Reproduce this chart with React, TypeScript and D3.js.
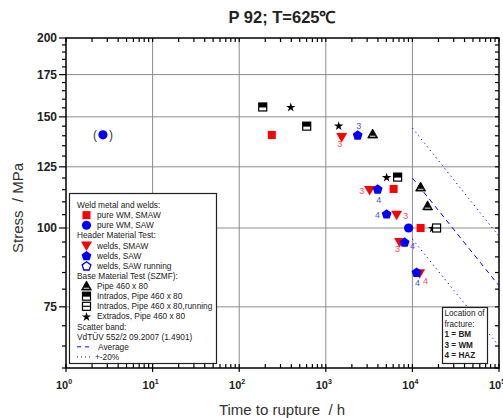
import React, { useEffect, useRef } from 'react';
import * as d3 from 'd3';

// pure weld metal, SMAW (red squares)
const wmSmawTime = [238, 6070, 12440];
const wmSmawStress = [140.4, 115.3, 100];
// pure weld metal, SAW (blue circles), first point given in brackets
const wmSawTime = [2.67, 9040];
const wmSawStress = [140.5, 100];
// header material test, welds SMAW (red down triangles)
const weldSmawTime = [1526, 3208, 6577, 7116, 12110];
const weldSmawStress = [139.4, 114.9, 104.9, 95, 84.8];
const weldSmawLoc = ['3', '3', '3', '3', '4'];
// header material test, welds SAW (blue pentagons)
const weldSawTime = [2333, 3969, 5040, 8128, 11180];
const weldSawStress = [140.4, 115.3, 105.3, 95, 85.1];
const weldSawLoc = ['3', '4', '4', '4', '4'];
// base material test
const pipeTime = [3475, 12440, 14970];
const pipeStress = [140.9, 116.1, 108.4];
const intradosTime = [187, 602, 6750];
const intradosStress = [155.5, 145, 120.4];
const intradosRunTime = [19010];
const intradosRunStress = [100];
const extradosTime = [394, 1409, 5040, 17100];
const extradosStress = [155.5, 145.3, 120.4, 100];
// scatter band VdTÜV 552/2
const bandTime = [10000, 100000];
const averageStress = [120, 81];
const upperStress = [144, 97];
const lowerStress = [96, 65];

const xMajor = [1, 10, 100, 1000, 10000, 100000];
const yMajor = [75, 100, 125, 150, 175, 200];

// label offsets (px) for the location-of-fracture numbers
const smawLocOffset = [[-2, 7], [-8, 1], [9, 1], [-2, 7], [6, 8]];
const sawLocOffset = [[1, -9], [1, 11], [-9, 1], [8, 4], [1, 11]];

const RED = '#ff0000';
const BLUE = '#0000ff';

const App = () => {
  const ref = useRef<SVGSVGElement>(null);

  useEffect(() => {
    const svg = d3.select(ref.current);
    svg.selectAll('*').remove();

    const left = 66;
    const right = 499;
    const top = 38;
    const bottom = 368;
    const font = 'Liberation Sans, Arial, sans-serif';

    const x = d3.scaleLog().domain([1, 100000]).range([left, right]);
    const y = d3.scaleLog().domain([60, 200]).range([bottom, top]);

    svg.append('rect').attr('width', 503).attr('height', 418).attr('fill', 'white');

    svg
      .append('defs')
      .append('clipPath')
      .attr('id', 'plot-clip')
      .append('rect')
      .attr('x', left)
      .attr('y', top)
      .attr('width', right - left)
      .attr('height', bottom - top);

    // grid
    const grid = svg.append('g').attr('stroke', '#8c8c8c').attr('stroke-width', 1);
    xMajor.slice(1, -1).forEach((t) => {
      grid.append('line').attr('x1', x(t)).attr('x2', x(t)).attr('y1', top).attr('y2', bottom);
    });
    yMajor.slice(0, -1).forEach((s) => {
      grid.append('line').attr('x1', left).attr('x2', right).attr('y1', y(s)).attr('y2', y(s));
    });

    // ticks
    const ticks = svg.append('g').attr('stroke', 'black').attr('stroke-width', 1.2);
    x.ticks().forEach((t) => {
      const major = xMajor.includes(t);
      const px = x(t);
      ticks.append('line').attr('x1', px).attr('x2', px)
        .attr('y1', bottom - 4).attr('y2', major ? bottom + 4 : bottom);
      ticks.append('line').attr('x1', px).attr('x2', px)
        .attr('y1', top).attr('y2', top + 4);
    });
    d3.range(60, 201, 5).forEach((s) => {
      const major = yMajor.includes(s);
      const py = y(s);
      ticks.append('line').attr('x1', left - (major ? 7 : 4)).attr('x2', left)
        .attr('y1', py).attr('y2', py);
      ticks.append('line').attr('x1', right - 4).attr('x2', right)
        .attr('y1', py).attr('y2', py);
    });

    // frame
    svg.append('rect')
      .attr('x', left).attr('y', top)
      .attr('width', right - left).attr('height', bottom - top)
      .attr('fill', 'none').attr('stroke', 'black').attr('stroke-width', 1.5);

    // tick labels
    yMajor.forEach((s) => {
      svg.append('text')
        .attr('x', left - 9).attr('y', y(s) + 4)
        .attr('text-anchor', 'end')
        .attr('font-family', font).attr('font-weight', 'bold').attr('font-size', 12)
        .attr('fill', '#222')
        .text(s);
    });
    xMajor.forEach((t) => {
      const tx = svg.append('text')
        .attr('x', x(t) - 2).attr('y', 389)
        .attr('text-anchor', 'middle')
        .attr('font-family', font).attr('font-weight', 'bold').attr('font-size', 11)
        .attr('fill', '#222');
      tx.append('tspan').text('10');
      tx.append('tspan').attr('dy', -5).attr('font-size', 7).text(Math.round(Math.log10(t)));
    });

    // titles
    svg.append('text')
      .attr('x', 282).attr('y', 23)
      .attr('text-anchor', 'middle')
      .attr('font-family', font).attr('font-weight', 'bold').attr('font-size', 16.5)
      .attr('fill', '#222')
      .text('P 92; T=625℃');
    svg.append('text')
      .attr('x', 282).attr('y', 415)
      .attr('text-anchor', 'middle')
      .attr('font-family', font).attr('font-size', 15)
      .attr('fill', '#333')
      .style('white-space', 'pre')
      .text('Time to rupture  / h');
    svg.append('text')
      .attr('transform', 'translate(23,208) rotate(-90)')
      .attr('text-anchor', 'middle')
      .attr('font-family', font).attr('font-size', 15)
      .attr('fill', '#333')
      .style('white-space', 'pre')
      .text('Stress  / MPa');

    // scatter band
    const band = svg.append('g').attr('clip-path', 'url(#plot-clip)').attr('fill', 'none')
      .attr('stroke', BLUE).attr('stroke-width', 1);
    const line = d3.line<number>().x((_, i) => x(bandTime[i])).y((d) => y(d));
    band.append('path').attr('d', line(averageStress)).attr('stroke-dasharray', '5,4');
    band.append('path').attr('d', line(upperStress)).attr('stroke-dasharray', '1.2,3.5');
    band.append('path').attr('d', line(lowerStress)).attr('stroke-dasharray', '1.2,3.5');

    // markers
    const pentagon = (cx: number, cy: number, r: number) =>
      d3.range(5).map((i) => {
        const a = -Math.PI / 2 + (i * 2 * Math.PI) / 5;
        return [cx + r * Math.cos(a), cy + r * Math.sin(a)].join(',');
      }).join(' ');

    const marker = (g: any, kind: string, cx: number, cy: number) => {
      if (kind === 'square') {
        g.append('rect').attr('x', cx - 4).attr('y', cy - 4).attr('width', 8).attr('height', 8).attr('fill', RED);
      } else if (kind === 'circle') {
        g.append('circle').attr('cx', cx).attr('cy', cy).attr('r', 4.6).attr('fill', BLUE);
      } else if (kind === 'tridown') {
        g.append('path').attr('d', `M${cx - 5.5},${cy - 4}L${cx + 5.5},${cy - 4}L${cx},${cy + 5.5}Z`).attr('fill', RED);
      } else if (kind === 'pentagon') {
        g.append('polygon').attr('points', pentagon(cx, cy + 0.5, 5.2)).attr('fill', BLUE);
      } else if (kind === 'pentagonOpen') {
        g.append('polygon').attr('points', pentagon(cx, cy + 0.5, 4.6)).attr('fill', 'white')
          .attr('stroke', BLUE).attr('stroke-width', 1.3);
      } else if (kind === 'triup') {
        g.append('path').attr('d', `M${cx},${cy - 5}L${cx + 5},${cy + 4}L${cx - 5},${cy + 4}Z`)
          .attr('fill', 'black').attr('stroke', 'black').attr('stroke-width', 0.8);
        g.append('line').attr('x1', cx - 2.8).attr('x2', cx + 2.8).attr('y1', cy + 2.3).attr('y2', cy + 2.3)
          .attr('stroke', '#aaa').attr('stroke-width', 1.4);
      } else if (kind === 'halfsq') {
        g.append('rect').attr('x', cx - 4).attr('y', cy - 4).attr('width', 8).attr('height', 8)
          .attr('fill', 'white').attr('stroke', 'black').attr('stroke-width', 1.2);
        g.append('rect').attr('x', cx - 4).attr('y', cy - 4).attr('width', 8).attr('height', 4.5).attr('fill', 'black');
      } else if (kind === 'runsq') {
        g.append('rect').attr('x', cx - 4).attr('y', cy - 4).attr('width', 8).attr('height', 8)
          .attr('fill', 'white').attr('stroke', 'black').attr('stroke-width', 1.2);
        g.append('line').attr('x1', cx - 4).attr('x2', cx + 4).attr('y1', cy).attr('y2', cy)
          .attr('stroke', 'black').attr('stroke-width', 1.2);
      } else if (kind === 'star') {
        g.append('path').attr('d', d3.symbol(d3.symbolStar, 27)())
          .attr('transform', `translate(${cx},${cy + 0.5})`).attr('fill', 'black');
      }
    };

    const pts = svg.append('g');
    const series = (times: number[], stresses: number[], kind: string) => {
      times.forEach((t, i) => marker(pts, kind, x(t), y(stresses[i])));
    };
    series(extradosTime, extradosStress, 'star');
    series(intradosTime, intradosStress, 'halfsq');
    series(intradosRunTime, intradosRunStress, 'runsq');
    series(pipeTime, pipeStress, 'triup');
    series(wmSmawTime, wmSmawStress, 'square');
    series(weldSmawTime, weldSmawStress, 'tridown');
    series(weldSawTime, weldSawStress, 'pentagon');
    series(wmSawTime, wmSawStress, 'circle');

    // brackets round the first SAW weld metal point
    const bx = x(wmSawTime[0]);
    const by = y(wmSawStress[0]);
    svg.append('text').attr('x', bx - 6).attr('y', by + 4).attr('text-anchor', 'end')
      .attr('font-family', font).attr('font-size', 12).attr('fill', '#333').text('(');
    svg.append('text').attr('x', bx + 6).attr('y', by + 4)
      .attr('font-family', font).attr('font-size', 12).attr('fill', '#333').text(')');

    // location of fracture numbers
    const locLabel = (times: number[], stresses: number[], locs: string[], offs: number[][], color: string) => {
      times.forEach((t, i) => {
        svg.append('text')
          .attr('x', x(t) + offs[i][0]).attr('y', y(stresses[i]) + offs[i][1] + 3)
          .attr('text-anchor', 'middle')
          .attr('font-family', font).attr('font-size', 9)
          .attr('fill', color)
          .text(locs[i]);
      });
    };
    locLabel(weldSmawTime, weldSmawStress, weldSmawLoc, smawLocOffset, '#ff4d4d');
    locLabel(weldSawTime, weldSawStress, weldSawLoc, sawLocOffset, '#4d4dff');

    // legend
    const lg = svg.append('g');
    lg.append('rect').attr('x', 69.5).attr('y', 193.5).attr('width', 147).attr('height', 170)
      .attr('fill', 'white').attr('stroke', '#222').attr('stroke-width', 1.2);
    const legendRows: [string, string][] = [
      ['', 'Weld metal and welds:'],
      ['square', 'pure WM, SMAW'],
      ['circle', 'pure WM, SAW'],
      ['', 'Header Material Test:'],
      ['tridown', 'welds, SMAW'],
      ['pentagon', 'welds, SAW'],
      ['pentagonOpen', 'welds, SAW running'],
      ['', 'Base Material Test (SZMF):'],
      ['triup', 'Pipe 460 x 80'],
      ['halfsq', 'Intrados, Pipe 460 x 80'],
      ['runsq', 'Intrados, Pipe 460 x 80,running'],
      ['star', 'Extrados, Pipe 460 x 80'],
      ['', 'Scatter band:'],
      ['', 'VdTÜV 552/2 09.2007 (1.4901)'],
      ['dash', 'Average'],
      ['dot', '+-20%'],
    ];
    legendRows.forEach(([kind, label], i) => {
      const cy = 205 + i * 10.13;
      let tx = 97;
      if (kind === '') tx = 77;
      else if (kind === 'dash') {
        lg.append('line').attr('x1', 77).attr('x2', 91).attr('y1', cy).attr('y2', cy)
          .attr('stroke', BLUE).attr('stroke-dasharray', '4,4');
        tx = 98;
      } else if (kind === 'dot') {
        lg.append('line').attr('x1', 77).attr('x2', 93).attr('y1', cy).attr('y2', cy)
          .attr('stroke', BLUE).attr('stroke-dasharray', '1,3');
        tx = 95;
      } else {
        marker(lg, kind, 86.5, cy);
      }
      lg.append('text').attr('x', tx).attr('y', cy + 3)
        .attr('font-family', font).attr('font-size', 8.3).attr('fill', '#222')
        .text(label);
    });

    // location of fracture box
    const fb = svg.append('g');
    fb.append('rect').attr('x', 442.5).attr('y', 307.5).attr('width', 45).attr('height', 56)
      .attr('fill', 'white').attr('stroke', '#222').attr('stroke-width', 1.2);
    [['Location of', 'normal'], ['fracture:', 'normal'], ['1 = BM', 'bold'], ['3 = WM', 'bold'], ['4 = HAZ', 'bold']]
      .forEach(([t, w], i) => {
        fb.append('text').attr('x', 444.5).attr('y', 316 + i * 10.6)
          .attr('font-family', font).attr('font-size', 8.2).attr('font-weight', w)
          .attr('fill', '#222').text(t);
      });
  }, []);

  return (
    <svg
      ref={ref}
      width={503}
      height={418}
      style={{ position: 'absolute', left: 0, top: 0 }}
    />
  );
};

export default App;
